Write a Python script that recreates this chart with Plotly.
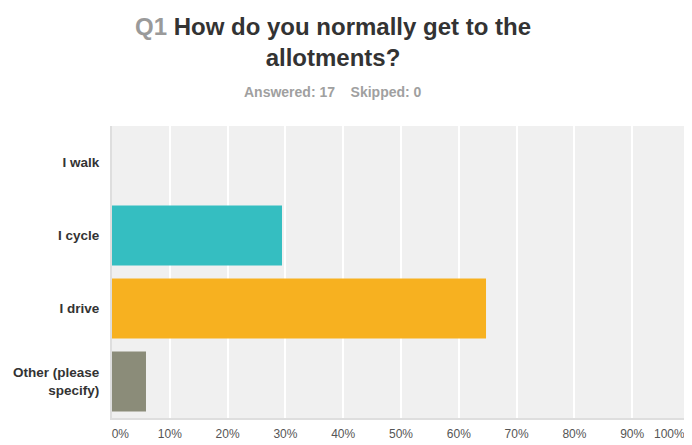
import plotly.graph_objects as go

categories = ["I walk", "I cycle", "I drive", "Other (please<br>specify)"]
values = [0.0, 29.41, 64.71, 5.88]
colors = ["#5b9bd5", "#35bec1", "#f7b120", "#8b8c79"]
tick_vals = [0, 10, 20, 30, 40, 50, 60, 70, 80, 90, 100]
tick_text = ["0%", "10%", "20%", "30%", "40%", "50%",
             "60%", "70%", "80%", "90%", "100%"]

FONT = "Arial, Liberation Sans, sans-serif"

# page body has an 8px default margin, so the figure is sized to fit the window
W, H = 684, 437
L, T, R, B = 104, 118, 2, 27
PH = H - T - B

# first label is nudged inside the plot, last one is drawn right-aligned at the edge
axis_text = ["&nbsp;&nbsp;&nbsp;&nbsp;&nbsp;" + tick_text[0]] + tick_text[1:-1] + [""]

fig = go.Figure(go.Bar(
    x=values, y=["<b>" + c + "</b>" for c in categories], orientation="h",
    marker=dict(color=colors, line=dict(width=0)),
    width=0.82, hoverinfo="skip",
))

fig.update_layout(
    width=W, height=H,
    margin=dict(l=L, r=R, t=T, b=B, autoexpand=False),
    paper_bgcolor="white", plot_bgcolor="#f0f0f0",
    showlegend=False,
    font=dict(family=FONT),
    xaxis=dict(
        range=[0, 100], tickvals=tick_vals, ticktext=axis_text,
        showgrid=True, gridcolor="white", gridwidth=2,
        zeroline=False, showline=True, linecolor="#dedede", linewidth=2,
        ticks="outside", ticklen=4, tickcolor="rgba(0,0,0,0)",
        tickfont=dict(size=12, color="#555555", family=FONT),
        fixedrange=True, automargin=False,
    ),
    yaxis=dict(
        autorange="reversed",
        showgrid=False, zeroline=False,
        showline=True, linecolor="#dedede", linewidth=2,
        ticks="outside", ticklen=8, tickcolor="rgba(0,0,0,0)",
        tickfont=dict(size=13.5, color="#333333", family=FONT),
        fixedrange=True, automargin=False,
    ),
    annotations=[
        dict(
            text="<b><span style='color:#9a9a9a'>Q1</span> How do you normally get to the<br>allotments?</b>",
            xref="paper", yref="paper", x=(325 - L) / (W - L - R), y=1 + (T - 33.5) / PH,
            xanchor="center", yanchor="middle", showarrow=False,
            font=dict(size=24, color="#333333", family=FONT), align="center",
        ),
        dict(
            text="<b>Answered: 17&nbsp;&nbsp;&nbsp;&nbsp;Skipped: 0</b>",
            xref="paper", yref="paper", x=(325 - L) / (W - L - R), y=1 + (T - 84.5) / PH,
            xanchor="center", yanchor="middle", showarrow=False,
            font=dict(size=14, color="#a0a0a0", family=FONT),
        ),
        dict(
            text=tick_text[-1],
            xref="paper", yref="paper", x=1, y=0,
            xanchor="right", yanchor="middle", xshift=-4, yshift=-16,
            showarrow=False, borderpad=0,
            font=dict(size=12, color="#555555", family=FONT),
        ),
    ],
)

fig.write_html("out.html")
